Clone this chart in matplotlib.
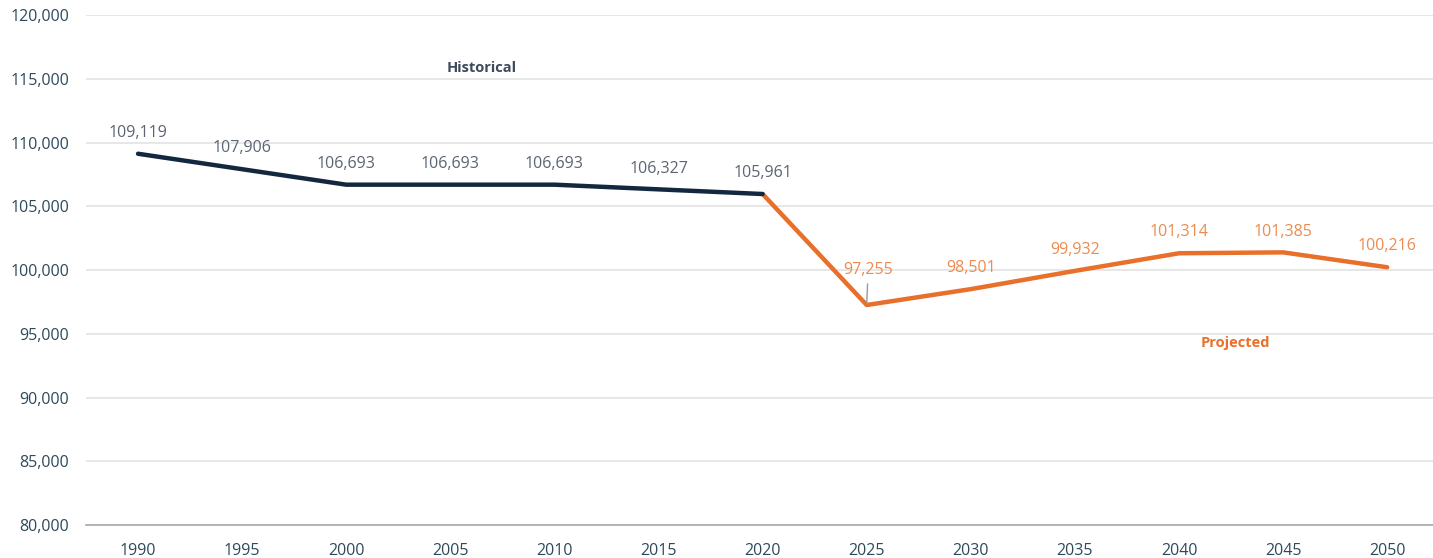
import matplotlib.pyplot as plt
from matplotlib.ticker import FuncFormatter

plt.rcParams['font.family'] = ['Open Sans', 'DejaVu Sans']

# data
hist_years = [1990, 1995, 2000, 2005, 2010, 2015, 2020]
hist_vals = [109119, 107906, 106693, 106693, 106693, 106327, 105961]
proj_years = [2020, 2025, 2030, 2035, 2040, 2045, 2050]
proj_vals = [105961, 97255, 98501, 99932, 101314, 101385, 100216]
x_ticks = list(range(1990, 2051, 5))
y_ticks = list(range(80000, 120001, 5000))

navy = '#13283f'
orange = '#e8702a'
orange_lbl = '#ec8b4f'
grey_lbl = '#5b6572'
tick_col = '#2d4a5a'

fig = plt.figure(figsize=(14.33, 5.58), dpi=100)
ax = fig.add_axes([0.060, 0.0591, 0.94, 0.914])

ax.plot(proj_years, proj_vals, color=orange, lw=3.2, solid_capstyle='round', solid_joinstyle='round', zorder=3)
ax.plot(hist_years, hist_vals, color=navy, lw=3.2, solid_capstyle='round', solid_joinstyle='round', zorder=4)

# labels on points
for x, v in zip(hist_years, hist_vals):
    ax.annotate(f'{v:,}', (x, v), xytext=(0, 15), textcoords='offset points',
                ha='center', va='center', fontsize=11.5, color=grey_lbl)
for x, v in zip(proj_years[1:], proj_vals[1:]):
    if x == 2025:
        ax.annotate(f'{v:,}', (x, v), xytext=(1, 25), textcoords='offset points',
                    ha='center', va='center', fontsize=11.5, color=orange_lbl,
                    arrowprops=dict(arrowstyle='-', color='#9a9a9a', lw=1,
                                    shrinkA=2, shrinkB=1))
    else:
        ax.annotate(f'{v:,}', (x, v), xytext=(0, 15), textcoords='offset points',
                    ha='center', va='center', fontsize=11.5, color=orange_lbl)

ax.text(2006.5, 115840, 'Historical', ha='center', va='center', fontsize=10.5,
        fontweight='bold', color='#3d4a5c')
ax.text(2042.7, 94270, 'Projected', ha='center', va='center', fontsize=10.5,
        fontweight='bold', color=orange)

ax.set_xlim(1987.5, 2052.2)
ax.set_ylim(80000, 120000)
ax.set_xticks(x_ticks)
ax.set_yticks(y_ticks)
ax.yaxis.set_major_formatter(FuncFormatter(lambda v, p: f'{int(v):,}'))
ax.grid(axis='y', color='#e3e3e3', lw=1.2)
ax.set_axisbelow(True)
for s in ['top', 'right', 'left']:
    ax.spines[s].set_visible(False)
ax.spines['bottom'].set_color('#a8a8a8')
ax.spines['bottom'].set_linewidth(1.2)
ax.tick_params(axis='both', length=0, labelsize=11.5, colors=tick_col)
ax.tick_params(axis='x', pad=13)
ax.tick_params(axis='y', pad=12)

fig.savefig('out.png', dpi=100)
